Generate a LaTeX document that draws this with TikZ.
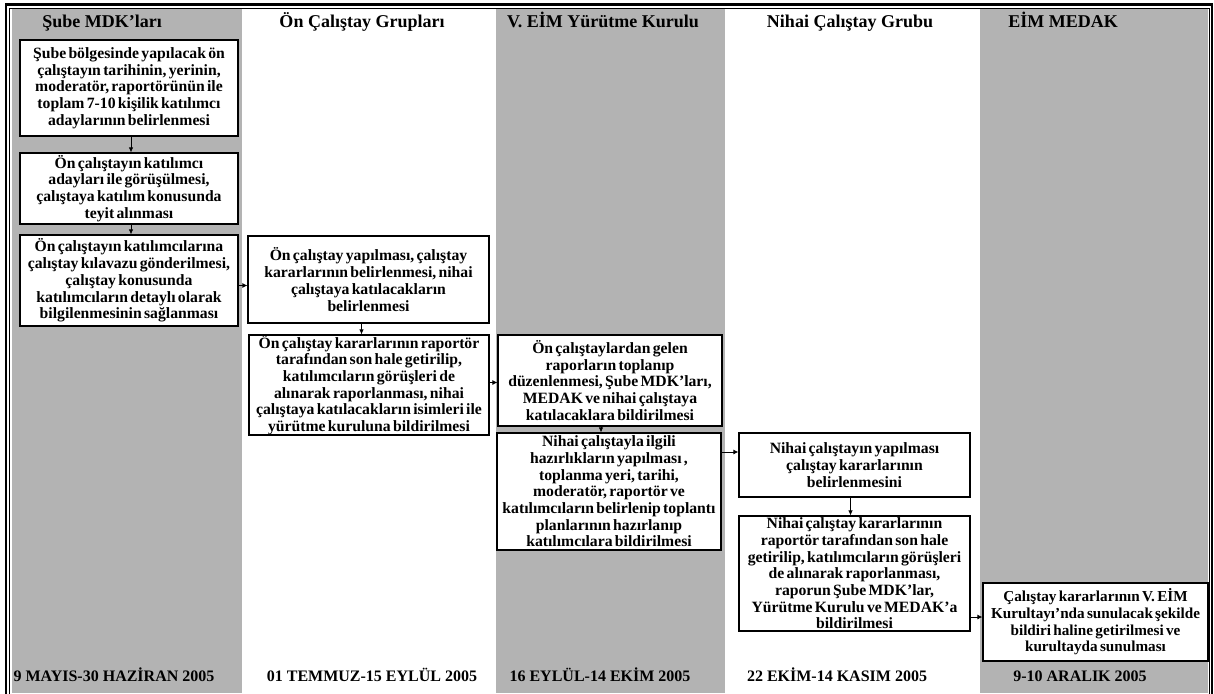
\documentclass[tikz,border=0pt]{standalone}
\usepackage{fontspec}
\setmainfont{Liberation Serif}
\usetikzlibrary{arrows.meta,calc}
\definecolor{colgray}{HTML}{B3B3B3}
\newcommand{\tightsp}{\spaceskip=2.3pt plus 1pt minus 0.5pt\relax}
\begin{document}
\begin{tikzpicture}[x=1pt,y=-1pt,
  box/.style={draw,line width=1.1pt,fill=white,align=center,inner sep=0pt,
    font=\bfseries\fontsize{15.7}{16.7}\selectfont\tightsp},
  conn/.style={line width=0.8pt,-{Latex[length=5pt,width=4.5pt]}},
  side/.style={line width=1pt,-{Latex[length=5pt,width=5pt]}},
  hdr/.style={font=\bfseries\fontsize{18}{20}\selectfont,anchor=base,inner sep=0pt},
  datelbl/.style={font=\bfseries\fontsize{16}{18}\selectfont,anchor=base,inner sep=0pt}]
\useasboundingbox (0,0) rectangle (1214,693);
\fill[white] (0,0) rectangle (1214,693);
\fill[colgray] (12,9) rectangle (242,693);
\fill[colgray] (496,9) rectangle (725,693);
\fill[colgray] (980,9) rectangle (1208,693);
\draw[line width=2.5pt] (6,700) -- (6,4.5) -- (1212,4.5) -- (1212,700);
\draw[line width=0.7pt] (9.5,700) -- (9.5,8) -- (1209.5,8) -- (1209.5,700);

% headers
\node[hdr] (h1) at (102,28) {Şube MDK’ları};
\node[hdr] (h2) at (362,28) {Ön Çalıştay Grupları};
\node[hdr] (h3) at (603,28) {V. EİM Yürütme Kurulu};
\node[hdr] (h4) at (850,28) {Nihai Çalıştay Grubu};
\node[hdr] (h5) at (1063,28) {EİM MEDAK};

% dates
\node[datelbl] (d1) at (114,681) {9 MAYIS-30 HAZİRAN 2005};
\node[datelbl] (d2) at (372,681) {01 TEMMUZ-15 EYLÜL 2005};
\node[datelbl] (d3) at (600,681) {16 EYLÜL-14 EKİM 2005};
\node[datelbl] (d4) at (837,681) {22 EKİM-14 KASIM 2005};
\node[datelbl] (d5) at (1080,681) {9-10 ARALIK 2005};

% boxes
\node[box,minimum width=218pt,minimum height=96pt] (b1) at (129,88)
  {Şube bölgesinde yapılacak ön\\çalıştayın tarihinin, yerinin,\\moderatör, raportörünün ile\\toplam 7-10 kişilik katılımcı\\adaylarının belirlenmesi};
\node[box,minimum width=218pt,minimum height=71pt] (b2) at (129,188.5)
  {Ön çalıştayın katılımcı\\adayları ile görüşülmesi,\\çalıştaya katılım konusunda\\teyit alınması};
\node[box,minimum width=218pt,minimum height=91pt] (b3) at (129,280.5)
  {Ön çalıştayın katılımcılarına\\çalıştay kılavazu gönderilmesi,\\çalıştay konusunda\\katılımcıların detaylı olarak\\bilgilenmesinin sağlanması};
\node[box,minimum width=241pt,minimum height=87pt] (b4) at (368.5,279.5)
  {Ön çalıştay yapılması, çalıştay\\kararlarının belirlenmesi, nihai\\çalıştaya katılacakların\\belirlenmesi};
\node[box,minimum width=240pt,minimum height=100pt] (b5) at (369,385)
  {Ön çalıştay kararlarının raportör\\tarafından son hale getirilip,\\katılımcıların görüşleri de\\alınarak raporlanması, nihai\\çalıştaya katılacakların isimleri ile\\yürütme kuruluna bildirilmesi};
\node[box,minimum width=224pt,minimum height=91pt] (b6) at (610,380.5)
  {Ön çalıştaylardan gelen\\raporların toplanıp\\düzenlenmesi, Şube MDK’ları,\\MEDAK ve nihai çalıştaya\\katılacaklara bildirilmesi};
\node[box,minimum width=224pt,minimum height=117pt] (b7) at (609,491.5)
  {Nihai çalıştayla ilgili\\hazırlıkların yapılması ,\\toplanma yeri, tarihi,\\moderatör, raportör ve\\katılımcıların belirlenip toplantı\\planlarının hazırlanıp\\katılımcılara bildirilmesi};
\node[box,minimum width=231pt,minimum height=64pt] (b8) at (854.5,465)
  {Nihai çalıştayın yapılması\\çalıştay kararlarının\\belirlenmesini};
\node[box,minimum width=231pt,minimum height=115pt] (b9) at (854.5,573.5)
  {Nihai çalıştay kararlarının\\raportör tarafından son hale\\getirilip, katılımcıların görüşleri\\de alınarak raporlanması,\\raporun Şube MDK’lar,\\Yürütme Kurulu ve MEDAK’a\\bildirilmesi};
\node[box,minimum width=225pt,minimum height=78pt,font=\bfseries\fontsize{15.2}{16.7}\selectfont\tightsp] (b10) at (1095.5,622)
  {Çalıştay kararlarının V. EİM\\Kurultayı’nda sunulacak şekilde\\bildiri haline getirilmesi ve\\kurultayda sunulması};

% vertical connectors
\draw[conn] ([xshift=2pt]b1.south) -- ([xshift=2pt]b1.south |- b2.north);
\draw[conn] ([xshift=2pt]b2.south) -- ([xshift=2pt]b2.south |- b3.north);
\draw[conn] ([xshift=-7pt]b4.south) -- ([xshift=-7pt]b4.south |- b5.north);
\draw[conn] ([xshift=-9pt]b6.south) -- ([xshift=-9pt]b6.south |- b7.north);
\draw[conn] ([xshift=-4pt]b8.south) -- ([xshift=-4pt]b8.south |- b9.north);

% side connectors
\coordinate (m1) at ([yshift=-5pt]b3.east);
\draw[side] (m1) -- (m1 -| b4.west);
\coordinate (m2) at ([yshift=-2pt]b6.west);
\draw[side] (m2 -| b5.east) -- (m2);
\coordinate (m3) at ([yshift=13pt]b8.west);
\draw[side] (m3 -| b7.east) -- (m3);
\coordinate (m4) at ([yshift=5pt]b10.west);
\draw[side] (m4 -| b9.east) -- (m4);
\end{tikzpicture}
\end{document}
